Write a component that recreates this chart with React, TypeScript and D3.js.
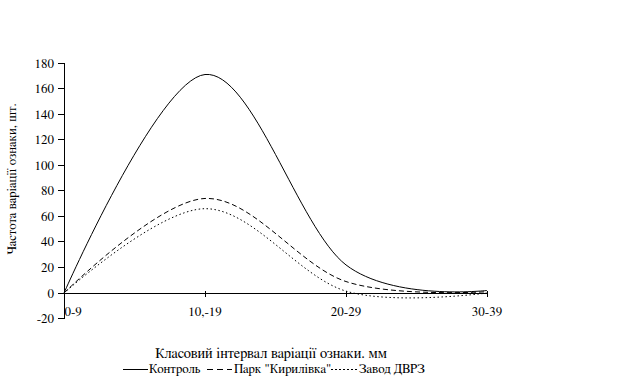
import React from "react";
import * as d3 from "d3";

const categories = ["0-9", "10,-19", "20-29", "30-39"];
const kontrol = [0, 171, 22, 2];
const park = [0, 74, 9, 1];
const zavod = [0, 66, 1.5, 0];
const yTicks = [-20, 0, 20, 40, 60, 80, 100, 120, 140, 160, 180];

const seriesNames = ["Контроль", "Парк \"Кирилівка\"", "Завод ДВРЗ"];

export default function App() {
  const W = 623, H = 385;
  const x = d3.scalePoint<string>().domain(categories).range([64, 487]);
  const y = d3.scaleLinear().domain([-20, 180]).range([318.6, 63]);
  const font = "FreeSerif, 'Liberation Serif', serif";

  const line = d3
    .line<number>()
    .x((_, i) => x(categories[i]) as number)
    .y((d) => y(d))
    .curve(d3.curveCardinal.tension(0));

  const series = [
    { data: kontrol, dash: undefined as string | undefined },
    { data: park, dash: "5,3" },
    { data: zavod, dash: "1.5,2.5" },
  ];

  const x0 = x(categories[0]) as number;
  const xEnd = x(categories[categories.length - 1]) as number;
  const legend = [
    { x1: 123, x2: 148, tx: 149, dash: undefined as string | undefined },
    { x1: 207, x2: 232, tx: 234, dash: "6,4" },
    { x1: 331, x2: 358, tx: 359, dash: "1.5,2.5" },
  ];
  const ts = { fontFamily: font, fontSize: 13 } as React.CSSProperties;

  return (
    <svg
      width={W}
      height={H}
      style={{ position: "absolute", left: 0, top: 0, background: "#fff", fontFamily: font }}
    >
      <rect width={W} height={H} fill="#fff" />
      {/* Y axis */}
      <line x1={x0} x2={x0} y1={y(180)} y2={y(-20)} stroke="#000" shapeRendering="crispEdges" />
      {yTicks.map((t) => (
        <g key={t}>
          <line x1={x0 - 6} x2={x0} y1={y(t)} y2={y(t)} stroke="#000" shapeRendering="crispEdges" />
          <text x={54} y={y(t)} dy="0.35em" textAnchor="end" style={ts}>
            {t}
          </text>
        </g>
      ))}
      {/* X axis */}
      <line x1={x0} x2={xEnd} y1={y(0)} y2={y(0)} stroke="#000" shapeRendering="crispEdges" />
      {categories.map((c, i) => (
        <g key={c}>
          {i > 0 && (
            <line
              x1={x(c) as number}
              x2={x(c) as number}
              y1={y(0) - 2}
              y2={y(0) + 4}
              stroke="#000"
              shapeRendering="crispEdges"
            />
          )}
          <text
            x={i === 0 ? (x(c) as number) + 0.5 : (x(c) as number)}
            y={316}
            textAnchor={i === 0 ? "start" : "middle"}
            style={ts}
          >
            {c}
          </text>
        </g>
      ))}
      {/* Series */}
      {series.map((s, i) => (
        <path
          key={i}
          d={line(s.data) || ""}
          fill="none"
          stroke="#000"
          strokeWidth={1}
          strokeDasharray={s.dash}
        />
      ))}
      {/* Axis titles */}
      <text x={271} y={358} textAnchor="middle" style={{ ...ts, fontSize: 14.5 }}>
        Класовий інтервал варіації ознаки. мм
      </text>
      <text transform={`translate(16,${179}) rotate(-90)`} textAnchor="middle" style={ts}>
        Частота варіації ознаки, шт.
      </text>
      {/* Legend */}
      {legend.map((l, i) => (
        <g key={i}>
          <line
            x1={l.x1}
            x2={l.x2}
            y1={369}
            y2={369}
            stroke="#000"
            strokeDasharray={l.dash}
            shapeRendering="crispEdges"
          />
          <text x={l.tx} y={373} style={ts}>
            {seriesNames[i]}
          </text>
        </g>
      ))}
    </svg>
  );
}
